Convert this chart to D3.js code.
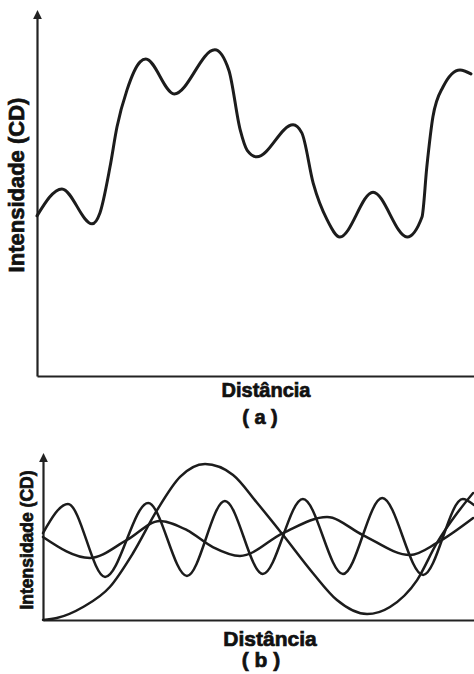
<!DOCTYPE html>
<html>
<head>
<meta charset="utf-8">
<script src="https://cdn.jsdelivr.net/npm/d3@7"></script>
<style>
  body { margin: 0; background: #fff; }
  svg { display: block; }
  .lbl { font-family: "Liberation Sans", Arial, sans-serif; font-weight: bold; fill: #111; stroke: #111; stroke-width: 0.7; }
  .curve { fill: none; stroke: #1c1c1c; stroke-linecap: round; stroke-linejoin: round; }
  .axis path { stroke: #222; stroke-width: 2.2; }
</style>
</head>
<body>
<div id="chart"></div>
<script>
// (a) single intensity profile: [distance, intensity]
var profileA = [
  [0, 44], [5.7, 51.4], [12.6, 41.8], [14.4, 44.8], [16.7, 57.4], [18.3, 68.4],
  [20.6, 78.6], [23.6, 86.3], [24.9, 87.1], [31.4, 77.5], [40.7, 89.6], [43.9, 84],
  [46.5, 67.6], [48.1, 62], [50.3, 60.2], [58.6, 69], [60.6, 66.8], [63.2, 53],
  [66.4, 42.9], [69.3, 38.2], [76.9, 50.5], [84.7, 38.2], [88.1, 43.7], [89.2, 57.4],
  [90.6, 71.2], [92.9, 79.4], [96.8, 84.1], [99.3, 83]
];

// (b) three component waves
var waveSlow = [
  [0, 0], [3.2, 1.2], [9.3, 7.9], [15.5, 20], [20.9, 40.6], [26.5, 66.7], [31.8, 86.7],
  [37.6, 94.5], [44.1, 87.9], [49.7, 70.9], [55.7, 51.5], [62.6, 28.5], [68.2, 12.1],
  [75.2, 3.6], [80.5, 7.9], [86.8, 24.2], [91.4, 46.7], [96.1, 64.8], [99.8, 77]
];
var waveMedium = [
  [0, 50.3], [10.9, 37.6], [19.5, 48.5], [27.1, 60], [33.4, 54.5], [39.4, 44.2],
  [45.7, 38.8], [55.7, 52.7], [65.9, 62.4], [74.2, 51.5], [85.2, 39.4], [91.4, 46.7],
  [99.8, 61.8]
];
var waveFast = [
  [0, 52.7], [5.8, 70.3], [14.4, 26.1], [24.4, 70.9], [33.4, 26.7], [42.2, 72.1],
  [51, 27.9], [60.3, 73.3], [69.6, 27.9], [78.7, 73.9], [88.2, 27.3], [97.4, 73.3],
  [100, 69.7]
];

var yTitle = "Intensidade (CD)";
var xTitle = "Distância";
var panelTags = ["( a )", "( b )"];

var W = 474, H = 674;
var svg = d3.select("#chart").append("svg").attr("width", W).attr("height", H);

svg.append("defs").append("marker")
  .attr("id", "arrow")
  .attr("viewBox", "0 0 10 10")
  .attr("refX", 5).attr("refY", 5)
  .attr("markerWidth", 4).attr("markerHeight", 4)
  .attr("orient", "auto")
  .append("path").attr("d", "M0,0L10,5L0,10z").attr("fill", "#222");

function panel(o) {
  var x = d3.scaleLinear().domain([0, 100]).range([o.left, W]);
  var y = d3.scaleLinear().domain([0, 100]).range([o.bottom, o.top]);

  var g = svg.append("g");
  g.append("g").attr("class", "axis")
    .attr("transform", "translate(0," + o.bottom + ")")
    .call(d3.axisBottom(x).tickValues([]).tickSizeOuter(0));
  g.append("g").attr("class", "axis")
    .attr("transform", "translate(" + o.left + ",0)")
    .call(d3.axisLeft(d3.scaleLinear().range([o.bottom, o.arrowTop])).tickValues([]).tickSizeOuter(0))
    .select("path").attr("marker-end", "url(#arrow)");

  var line = d3.line()
    .x(function (d) { return x(d[0]); })
    .y(function (d) { return y(d[1]); })
    .curve(d3.curveMonotoneX);

  o.series.forEach(function (s) {
    g.append("path").attr("class", "curve")
      .attr("d", line(s))
      .attr("stroke-width", o.lw);
  });

  g.append("text").attr("class", "lbl")
    .attr("transform", "translate(" + o.yLab[0] + "," + o.yLab[1] + ") rotate(-90)")
    .attr("text-anchor", "middle")
    .style("font-size", o.yFont + "px")
    .text(yTitle);

  g.append("text").attr("class", "lbl")
    .attr("x", o.xLab[0]).attr("y", o.xLab[1])
    .attr("text-anchor", "middle")
    .style("font-size", o.xFont + "px")
    .text(xTitle);

  g.append("text").attr("class", "lbl")
    .attr("x", o.tag[0]).attr("y", o.tag[1])
    .attr("text-anchor", "middle")
    .style("font-size", o.xFont + "px")
    .style("white-space", "pre")
    .text(o.tagText);
}

panel({
  left: 37, top: 12, bottom: 376, arrowTop: 14, lw: 3,
  series: [profileA],
  yLab: [24, 185], yFont: 22,
  xLab: [266, 397], xFont: 20,
  tag: [260, 424], tagText: panelTags[0]
});

panel({
  left: 43, top: 455, bottom: 620, arrowTop: 457, lw: 2.5,
  series: [waveSlow, waveMedium, waveFast],
  yLab: [33, 540], yFont: 17.5,
  xLab: [270, 646], xFont: 21,
  tag: [261, 667], tagText: panelTags[1]
});
</script>
</body>
</html>
